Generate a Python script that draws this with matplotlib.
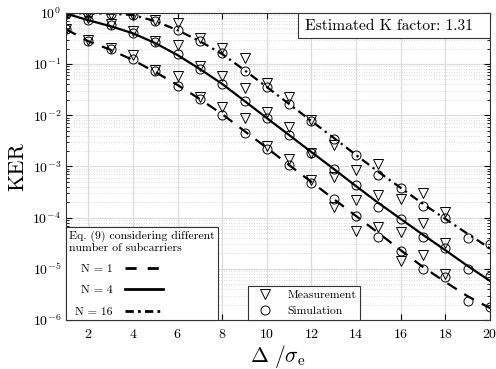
import numpy as np
import matplotlib
matplotlib.use("Agg")
import matplotlib.pyplot as plt
from matplotlib.lines import Line2D
from matplotlib.patches import Rectangle

plt.rcParams['font.family'] = 'serif'
plt.rcParams['font.serif'] = ['cmr10', 'DejaVu Serif']
plt.rcParams['mathtext.fontset'] = 'cm'
plt.rcParams['axes.formatter.use_mathtext'] = True

# x axis: Delta / sigma_e
snr = np.arange(1, 21)

# Eq. (9) curves
theory_n1 = [0.48, 0.28, 0.19, 0.12, 0.070, 0.039, 0.0207, 0.0105, 0.0049, 0.0023,
             0.00106, 4.95e-4, 2.3e-4, 1.07e-4, 5.0e-5, 2.3e-5, 1.08e-5, 5.5e-6, 2.9e-6, 1.7e-6]
theory_n4 = [0.97, 0.72, 0.55, 0.40, 0.257, 0.15, 0.080, 0.041, 0.019, 0.0088,
             0.0041, 0.0019, 8.9e-4, 4.1e-4, 1.93e-4, 9.4e-5, 4.6e-5, 2.3e-5, 1.13e-5, 5.8e-6]
theory_n16 = [0.98, 0.98, 0.97, 0.91, 0.69, 0.46, 0.28, 0.157, 0.076, 0.0356,
              0.0166, 0.0077, 0.0036, 0.00167, 7.8e-4, 3.8e-4, 1.85e-4, 9.4e-5, 4.8e-5, 2.5e-5]

# simulation
sim_n1 = [0.48, 0.28, 0.196, 0.125, 0.073, 0.037, 0.0207, 0.0101, 0.0046, 0.0022,
          0.00106, 4.8e-4, 2.3e-4, 1.07e-4, 4.2e-5, 2.2e-5, 9.9e-6, 6.9e-6, 2.35e-6, 1.8e-6]
sim_n4 = [0.97, 0.72, 0.58, 0.40, 0.27, 0.157, 0.080, 0.041, 0.019, 0.0088,
          0.0041, 0.00183, 8.9e-4, 4.35e-4, 1.6e-4, 9.4e-5, 4.2e-5, 2.55e-5, 9.9e-6, 7.2e-6]
sim_n16 = [0.98, 0.98, 0.97, 0.91, 0.69, 0.46, 0.28, 0.164, 0.073, 0.0356,
           0.0166, 0.0077, 0.0034, 0.00167, 6.8e-4, 3.8e-4, 1.69e-4, 9.8e-5, 4.0e-5, 3.05e-5]

# measurement (up to 18)
meas_x = np.arange(1, 19)
meas_n1 = [0.48, 0.294, 0.205, 0.15, 0.076, 0.058, 0.0227, 0.0145, 0.0088, 0.0025,
           0.0014, 5.4e-4, 1.6e-4, 5.5e-5, 6.6e-5, 1.42e-5, 1.85e-5, 7.9e-6]
meas_n4 = [0.97, 0.79, 0.60, 0.44, 0.28, 0.235, 0.091, 0.058, 0.034, 0.0116,
           0.0059, 0.00185, 6.2e-4, 2.2e-4, 2.76e-4, 5.2e-5, 7.9e-5, 3.2e-5]
meas_n16 = [0.98, 0.98, 0.97, 0.91, 0.72, 0.63, 0.32, 0.205, 0.131, 0.0425,
            0.0227, 0.0081, 0.0026, 8.5e-4, 0.0011, 2.3e-4, 3.0e-4, 1.29e-4]

fig = plt.figure(figsize=(4.96, 3.69), dpi=100)
ax = fig.add_axes([0.133, 0.133, 0.855, 0.832])

mk = dict(linestyle='none', markerfacecolor='none', markeredgecolor='k',
          markersize=6.5, markeredgewidth=0.7)
for s in (sim_n1, sim_n4, sim_n16):
    ax.plot(snr, s, marker='o', **mk)
for m in (meas_n1, meas_n4, meas_n16):
    ax.plot(meas_x, m, marker='v', **mk)

ax.plot(snr, theory_n1, color='k', lw=1.6, dashes=(5, 4))
ax.plot(snr, theory_n4, color='k', lw=1.6)
ax.plot(snr, theory_n16, color='k', lw=1.6, dashes=(4, 2, 1, 2))

ax.set_yscale('log')
ax.set_xlim(1, 20)
ax.set_ylim(1e-6, 1)
ax.set_xticks(np.arange(2, 21, 2))
ax.tick_params(which='both', direction='in', top=True, right=True, labelsize=10)
ax.tick_params(axis='x', pad=6)
ax.tick_params(which='major', length=4)
ax.tick_params(which='minor', length=2)
ax.grid(True, which='major', color='#dcdcdc', lw=0.9)
ax.grid(True, which='minor', axis='y', color='#cfcfcf', lw=0.6, linestyle=(0, (1, 2)))
ax.set_axisbelow(True)
for sp in ax.spines.values():
    sp.set_linewidth(0.8)
    sp.set_color('#333333')

ax.set_ylabel('KER', fontsize=16, labelpad=4)
ax.set_xlabel(r'$\Delta\ /\sigma_{\rm e}$', fontsize=15.5, labelpad=1)

# legend for curves
h_curves = [Line2D([], [], color='k', lw=2, dashes=(4, 4)),
            Line2D([], [], color='k', lw=2),
            Line2D([], [], color='k', lw=2, dashes=(3, 1.5, 1, 1.5))]
leg1 = ax.legend(h_curves, ['N = 1', 'N = 4', 'N = 16'], loc='lower left',
                 bbox_to_anchor=(0, 0), borderaxespad=0, markerfirst=False,
                 title='Eq. (9) considering different\nnumber of subcarriers',
                 title_fontsize=8.5, fontsize=8.5, handlelength=3.2,
                 handletextpad=1.6, labelspacing=0.95, fancybox=False,
                 edgecolor='#333333', framealpha=1, alignment='left',
                 borderpad=0.25)
leg1.get_frame().set_linewidth(0.8)
for t in leg1.get_texts():
    t.set_x(6)
ax.add_artist(leg1)

h_marks = [Line2D([], [], marker='v', **mk), Line2D([], [], marker='o', **mk)]
leg2 = ax.legend(h_marks, ['Measurement', 'Simulation'], loc='lower left',
                 bbox_to_anchor=(0.43, 0), borderaxespad=0, fontsize=8.4,
                 handlelength=2.2, fancybox=False, edgecolor='#333333',
                 framealpha=1, borderpad=0.35, labelspacing=0.5)
leg2.get_frame().set_linewidth(0.8)

# K factor box in the upper right corner
ax.add_patch(Rectangle((0.547, 0.919), 0.453, 0.081, transform=ax.transAxes,
                       facecolor='white', edgecolor='#333333', lw=0.8, zorder=5))
ax.text(0.564, 0.958, 'Estimated K factor: 1.31', transform=ax.transAxes,
        ha='left', va='center', fontsize=11.2, zorder=6)

fig.savefig('out.png', dpi=100)
